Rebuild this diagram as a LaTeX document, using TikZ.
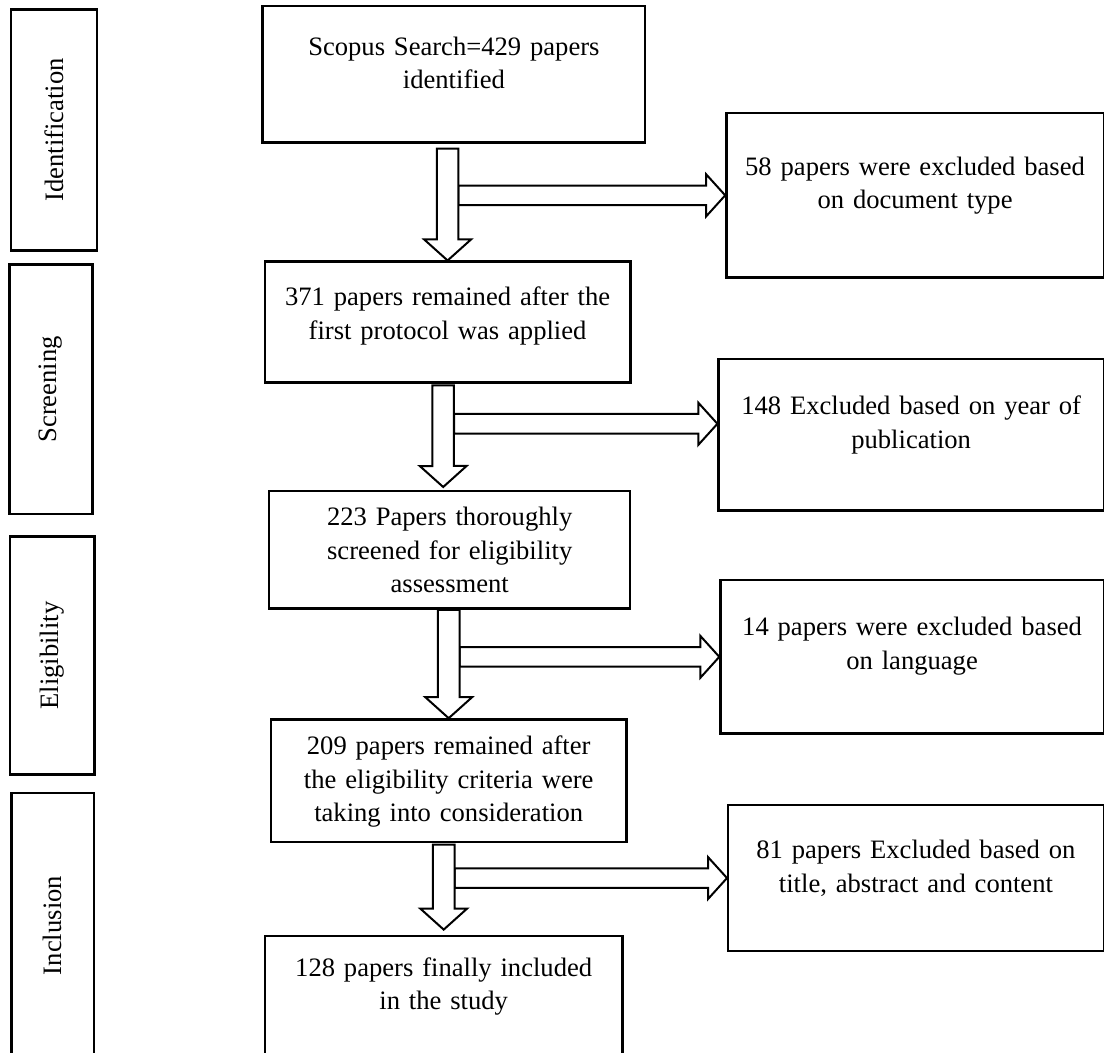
\documentclass[tikz,border=0pt]{standalone}
\usepackage{fontspec}
\setmainfont{Liberation Serif}
\usetikzlibrary{calc,positioning}

\begin{document}
\begin{tikzpicture}[
    x=0.5pt, y=-0.5pt,
    every node/.style={font=\fontsize{13.3}{16.75}\selectfont},
    box/.style={rectangle, draw, line width=1.2pt, inner sep=0pt, align=center, anchor=north west},
    stage/.style={rectangle, draw, line width=1.2pt, inner sep=0pt, rotate=90},
    blockarrow/.style n args={3}{draw, line width=1pt, fill=white, line join=miter,
        to path={($(\tikztostart)!#1!90:(\tikztotarget)$)
            -- ($($(\tikztotarget)!#3!(\tikztostart)$)!#1!90:(\tikztotarget)$)
            -- ($($(\tikztotarget)!#3!(\tikztostart)$)!#2!90:(\tikztotarget)$)
            -- (\tikztotarget)
            -- ($($(\tikztotarget)!#3!(\tikztostart)$)!#2!-90:(\tikztotarget)$)
            -- ($($(\tikztotarget)!#3!(\tikztostart)$)!#1!-90:(\tikztotarget)$)
            -- ($(\tikztostart)!#1!-90:(\tikztotarget)$) -- cycle}},
    down/.style={blockarrow={5.4pt}{11.7pt}{10.5pt}},
    across/.style={blockarrow={4.9pt}{10.5pt}{9.5pt}}
]
    \path[use as bounding box, clip] (0,0) rectangle (1104,1053);

    % stages
    \node[stage, minimum width=120.5pt, minimum height=43pt] (ident) at (54,129.9) {Identification};
    \node[stage, minimum width=124.9pt, minimum height=41.6pt] (screen) at (50.9,389.4) {Screening};
    \node[stage, minimum width=119.1pt, minimum height=42.25pt] (elig) at (52.25,655.5) {Eligibility};
    \node[stage, minimum width=132.5pt, minimum height=41.2pt] (incl) at (52.8,925.5) {Inclusion};

    % main flow
    \node[box, text width=191.3pt, text height=24.5pt, text depth=43.6pt] (scopus) at (261.4,5) {Scopus Search=429 papers\\identified};
    \node[box, text width=182.7pt, text height=22pt, text depth=38.5pt] (rem371) at (263.7,260.5) {371 papers remained after the\\first protocol was applied};
    \node[box, text width=180.5pt, text height=17.3pt, text depth=41.45pt] (thor223) at (268,490) {223 Papers thoroughly\\screened for eligibility\\assessment};
    \node[box, text width=177.9pt, text height=17.75pt, text depth=43.45pt] (rem209) at (269.6,718.2) {209 papers remained after\\the eligibility criteria were\\taking into consideration};
    \node[box, text width=178.8pt, text height=20.2pt, text depth=47.5pt] (incl128) at (263.7,934.6) {128 papers finally included\\in the study};

    % exclusions
    \node[box, text width=188.65pt, text height=31pt, text depth=51.15pt] (exc58) at (725.2,112) {58 papers were excluded based\\on document type};
    \node[box, text width=192.55pt, text height=27.85pt, text depth=47.75pt] (exc148) at (717.4,358) {148 Excluded based on year of\\publication};
    \node[box, text width=191.6pt, text height=27.8pt, text depth=48.85pt] (exc14) at (719.3,579) {14 papers were excluded based\\on language};
    \node[box, text width=187.75pt, text height=26.85pt, text depth=46pt] (exc81) at (727,804) {81 papers Excluded based on\\title, abstract and content};

    \draw[across] ($(rem371.north |- exc58.west)+(10.8,0)$) to (exc58.west);
    \draw[down] ($(scopus.south -| rem371.north)+(0,5)$) to (rem371.north);
    \draw[across] ($(thor223.north |- exc148.west)+(4.3,-11)$) to ($(exc148.west)+(0,-11)$);
    \draw[down] ($(rem371.south)+(-4.5,1.5)$) to ($(thor223.north)+(-6.5,-3)$);
    \draw[across] ($(rem209.north |- exc14.west)+(10.8,0)$) to (exc14.west);
    \draw[down] (thor223.south -| rem209.north) to (rem209.north);
    \draw[across] ($(incl128.north |- exc81.west)+(10.8,0)$) to (exc81.west);
    \draw[down] ($(rem209.south -| incl128.north)+(0,1.5)$) to ($(incl128.north)+(0,-5)$);
\end{tikzpicture}
\end{document}
